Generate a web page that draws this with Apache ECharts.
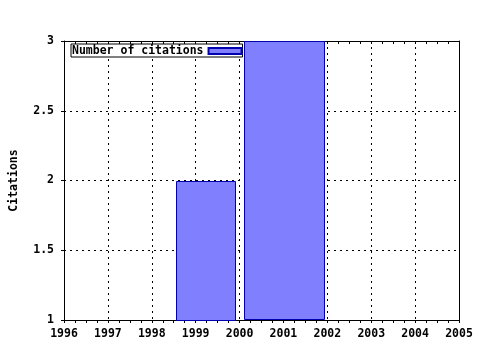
<!DOCTYPE html>
<html>
<head>
<meta charset="utf-8">
<script src="https://cdn.jsdelivr.net/npm/echarts@6/dist/echarts.min.js"></script>
<style>html,body{margin:0;padding:0;background:#fff;}#c{width:480px;height:350px;}</style>
</head>
<body>
<div id="c"></div>
<script>
// Data
var seriesName = 'Number of citations';
var barStarts = [1998.55, 2000.1];
var barEnds = [1999.9, 2001.92];
var barValues = [2, 3];
var yMin = 1, yMax = 3, yInterval = 0.5;
var xMin = 1996, xMax = 2005, xInterval = 1;
var yAxisName = 'Citations';

var FONT = '"DejaVu Sans Mono", monospace';
var data = barStarts.map(function (s, i) { return [s, barEnds[i], barValues[i]]; });

var chart = echarts.init(document.getElementById('c'), null, { renderer: 'canvas' });
var labelStyle = { color: '#000', fontFamily: FONT, fontWeight: 'bold', fontSize: 11.5 };
var grid = { type: [2, 4], color: '#000', width: 1 };

chart.setOption({
  animation: false,
  backgroundColor: '#fff',
  grid: { left: 64, right: 21, top: 41, bottom: 30, containLabel: false, outerBoundsMode: 'none' },
  legend: {
    left: 71, top: 44,
    align: 'right',
    orient: 'horizontal',
    backgroundColor: '#fff',
    borderColor: '#000', borderWidth: 1,
    padding: [1, 0, 0, 1],
    itemWidth: 33, itemHeight: 6,
    icon: 'rect',
    textStyle: labelStyle,
    data: [seriesName]
  },
  xAxis: [{
    type: 'value', min: xMin, max: xMax, interval: xInterval,
    position: 'bottom',
    axisLine: { show: true, lineStyle: { color: '#000', width: 1 } },
    axisTick: { show: true, length: 3, lineStyle: { color: '#000' } },
    minorTick: { show: true, splitNumber: 4, length: 3, lineStyle: { color: '#000' } },
    axisLabel: Object.assign({ margin: 8, formatter: function (v) { return String(v); } }, labelStyle),
    splitLine: { show: true, lineStyle: grid }
  }, {
    type: 'value', min: xMin, max: xMax, interval: xInterval,
    position: 'top',
    axisLine: { show: true, onZero: false, lineStyle: { color: '#000', width: 1 } },
    axisTick: { show: true, inside: true, length: 3, lineStyle: { color: '#000' } },
    minorTick: { show: true, splitNumber: 4, length: 3, lineStyle: { color: '#000' } },
    axisLabel: { show: false },
    splitLine: { show: false }
  }],
  yAxis: [{
    type: 'value', min: yMin, max: yMax, interval: yInterval,
    name: yAxisName, nameLocation: 'middle', nameGap: 44, nameRotate: 90,
    nameTextStyle: labelStyle,
    axisLine: { show: true, lineStyle: { color: '#000', width: 1 } },
    axisTick: { show: true, length: 3, lineStyle: { color: '#000' } },
    axisLabel: Object.assign({ margin: 10 }, labelStyle),
    splitLine: { show: true, lineStyle: grid }
  }, {
    type: 'value', min: yMin, max: yMax, interval: yInterval,
    position: 'right',
    axisLine: { show: true, onZero: false, lineStyle: { color: '#000', width: 1 } },
    axisTick: { show: false },
    axisLabel: { show: false },
    splitLine: { show: false }
  }],
  series: [{
    type: 'custom',
    name: seriesName,
    xAxisIndex: 0, yAxisIndex: 0,
    itemStyle: { color: '#8080ff', borderColor: '#0000b0', borderWidth: 1 },
    encode: { x: [0, 1], y: 2 },
    renderItem: function (params, api) {
      var p0 = api.coord([api.value(0), api.value(2)]);
      var p1 = api.coord([api.value(1), yMin]);
      return {
        type: 'rect',
        shape: { x: Math.round(p0[0]) + 0.5, y: Math.round(p0[1]) + 0.5, width: Math.round(p1[0] - p0[0]), height: Math.round(p1[1] - p0[1]) - 1 },
        style: { fill: '#8080ff', stroke: '#0000b0', lineWidth: 1 }
      };
    },
    data: data,
    z: 3
  }]
});
</script>
</body>
</html>
